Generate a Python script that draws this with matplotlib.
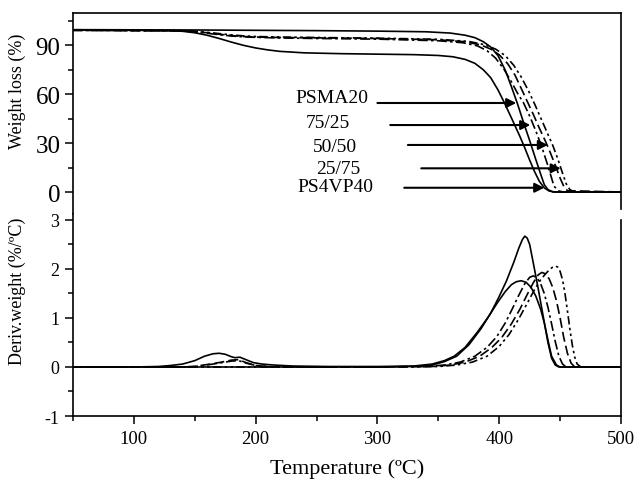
import matplotlib
matplotlib.use('Agg')
import matplotlib.pyplot as plt

plt.rcParams['font.family'] = ['Liberation Serif', 'DejaVu Serif']
plt.rcParams['axes.unicode_minus'] = False

# ---- TGA (weight loss, %) ----
psma20_t = [50, 150, 200, 250, 300, 340, 360, 372, 380, 387, 393, 399, 405, 410, 415,
            420, 425, 430, 434, 437, 440, 444, 500]
psma20_w = [99.4, 99.2, 99.0, 98.8, 98.5, 98.1, 97.3, 96.0, 94.5, 92.0, 88.8, 83.5, 74.5,
            64.5, 54.0, 42.5, 31.5, 20.0, 11.0, 4.5, 1.5, 0.0, 0.0]

r7525_t = [50, 140, 150, 160, 170, 180, 190, 200, 220, 250, 300, 350, 370, 382, 390, 397,
           404, 410, 415, 420, 425, 430, 435, 440, 445, 449, 453, 500]
r7525_w = [99.0, 98.6, 98.0, 97.2, 96.3, 95.5, 95.0, 94.7, 94.3, 94.0, 93.6, 92.6, 91.4,
           89.5, 86.5, 82.0, 75.0, 67.5, 60.5, 54.5, 46.5, 37.5, 27.5, 16.0, 3.5, 0.6, 0.0, 0.0]

r5050_t = [50, 140, 150, 160, 170, 180, 190, 200, 220, 250, 300, 350, 372, 385, 393, 400,
           407, 413, 418, 423, 428, 433, 438, 442, 446, 450, 453, 456, 500]
r5050_w = [99.0, 98.7, 98.2, 97.5, 96.6, 95.8, 95.2, 94.9, 94.6, 94.4, 94.0, 93.2, 92.0,
           90.0, 87.5, 84.0, 78.5, 71.5, 63.5, 55.5, 47.5, 39.0, 31.0, 24.0, 16.5, 8.5, 3.5,
           0.8, 0.0]

r2575_t = [50, 140, 150, 160, 170, 180, 190, 200, 220, 250, 300, 350, 375, 388, 397, 405,
           412, 418, 424, 429, 434, 439, 444, 448, 452, 455, 458, 461, 500]
r2575_w = [99.0, 98.8, 98.4, 97.8, 97.0, 96.2, 95.6, 95.2, 94.9, 94.6, 94.2, 93.5, 92.2,
           90.2, 87.5, 83.5, 77.5, 70.5, 62.0, 54.0, 45.5, 37.0, 28.5, 20.5, 11.5, 5.0, 1.5,
           0.2, 0.0]

ps4vp40_t = [50, 100, 130, 140, 150, 160, 170, 180, 190, 200, 210, 220, 240, 270, 300, 330,
             350, 362, 372, 380, 387, 393, 399, 404, 409, 413, 417, 421, 425, 429, 433, 437,
             441, 446, 500]
ps4vp40_w = [99.2, 99.0, 98.8, 98.4, 97.5, 96.0, 94.0, 91.8, 89.8, 88.2, 87.0, 86.1, 85.2,
             84.7, 84.4, 84.1, 83.6, 82.8, 81.2, 78.8, 74.8, 70.0, 62.5, 55.0, 47.0, 40.5,
             34.0, 27.0, 19.5, 12.5, 6.5, 2.5, 0.6, 0.0, 0.0]

# ---- DTG (deriv. weight, %/ºC) ----
psma20_dt = [50, 300, 330, 345, 355, 365, 375, 385, 393, 400, 406, 412, 416, 419, 421, 423,
             425, 428, 432, 436, 440, 443, 446, 449, 500]
psma20_d = [0, 0, 0.01, 0.04, 0.11, 0.22, 0.45, 0.78, 1.1, 1.44, 1.76, 2.14, 2.42, 2.6,
            2.67, 2.63, 2.5, 2.12, 1.6, 1.05, 0.5, 0.18, 0.04, 0, 0]

r7525_dt = [50, 140, 150, 160, 170, 180, 186, 192, 200, 215, 300, 340, 355, 368, 380, 390,
            398, 405, 411, 416, 421, 425, 428, 431, 434, 437, 440, 443, 446, 449, 452, 455, 500]
r7525_d = [0, 0, 0.01, 0.04, 0.08, 0.12, 0.13, 0.08, 0.03, 0, 0, 0.01, 0.04, 0.1, 0.22, 0.4,
           0.62, 0.9, 1.2, 1.46, 1.7, 1.83, 1.86, 1.82, 1.7, 1.5, 1.22, 0.88, 0.52, 0.22,
           0.06, 0, 0]

r5050_dt = [50, 140, 150, 160, 170, 180, 186, 192, 200, 215, 300, 345, 360, 372, 384, 394,
            402, 410, 417, 423, 428, 432, 435, 438, 441, 444, 447, 450, 453, 456, 459, 462, 500]
r5050_d = [0, 0, 0.01, 0.05, 0.09, 0.14, 0.15, 0.09, 0.03, 0, 0, 0.01, 0.04, 0.1, 0.22, 0.4,
           0.6, 0.88, 1.18, 1.48, 1.72, 1.88, 1.93, 1.9, 1.8, 1.62, 1.35, 1.0, 0.6, 0.28,
           0.08, 0, 0]

r2575_dt = [50, 300, 350, 365, 378, 390, 400, 408, 416, 423, 429, 434, 438, 441, 444, 446,
            448, 450, 452, 454, 456, 458, 460, 462, 464, 467, 500]
r2575_d = [0, 0, 0.01, 0.04, 0.1, 0.22, 0.42, 0.66, 0.98, 1.3, 1.58, 1.78, 1.9, 1.98, 2.04,
           2.06, 2.04, 1.95, 1.78, 1.5, 1.15, 0.78, 0.45, 0.2, 0.06, 0, 0]

ps4vp40_dt = [50, 100, 120, 130, 140, 150, 158, 165, 170, 175, 180, 183, 187, 192, 198, 205,
              215, 230, 260, 300, 330, 345, 355, 363, 372, 382, 391, 399, 405, 410, 414, 418,
              422, 426, 430, 434, 437, 440, 443, 447, 450, 500]
ps4vp40_d = [0, 0, 0.01, 0.03, 0.06, 0.13, 0.22, 0.27, 0.28, 0.26, 0.21, 0.19, 0.2, 0.15,
             0.09, 0.06, 0.04, 0.02, 0.01, 0.01, 0.02, 0.06, 0.13, 0.22, 0.4, 0.71, 1.02, 1.33,
             1.54, 1.68, 1.74, 1.76, 1.73, 1.63, 1.45, 1.18, 0.9, 0.55, 0.22, 0.04, 0, 0]

# labels: text x, text baseline y, arrow start x, arrow tip x, arrow y
labels = ['PSMA20', '75/25', '50/50', '25/75', 'PS4VP40']
label_x = [233, 241, 247, 249.5, 234.5]
label_y = [55.1, 39.8, 25.3, 11.8, 0.6]
arrow_from = [300, 310.5, 325, 336, 322]
arrow_to = [414, 425.5, 440, 450.5, 437]
arrow_y = [54.5, 41.0, 28.8, 14.5, 2.6]

styles = {
    'psma20': '-',
    'r7525': (0, (6, 2, 1.5, 2)),
    'r5050': (0, (6, 2.5)),
    'r2575': (0, (5, 2, 1.5, 2, 1.5, 2)),
    'ps4vp40': '-',
}

W, H = 637, 485
fig = plt.figure(figsize=(W / 100, H / 100), dpi=100)
left = 73 / W
width = 548 / W
ax1 = fig.add_axes([left, 1 - 215 / H, width, 201 / H])
ax2 = fig.add_axes([left, 1 - 417 / H, width, 202 / H])

lw = 1.2
ax1.plot(ps4vp40_t, ps4vp40_w, color='k', ls=styles['ps4vp40'], lw=lw)
ax1.plot(psma20_t, psma20_w, color='k', ls=styles['psma20'], lw=lw)
ax1.plot(r7525_t, r7525_w, color='k', ls=styles['r7525'], lw=lw)
ax1.plot(r5050_t, r5050_w, color='k', ls=styles['r5050'], lw=lw)
ax1.plot(r2575_t, r2575_w, color='k', ls=styles['r2575'], lw=lw)

ax2.plot(ps4vp40_dt, ps4vp40_d, color='k', ls=styles['ps4vp40'], lw=lw)
ax2.plot(psma20_dt, psma20_d, color='k', ls=styles['psma20'], lw=lw)
ax2.plot(r7525_dt, r7525_d, color='k', ls=styles['r7525'], lw=lw)
ax2.plot(r5050_dt, r5050_d, color='k', ls=styles['r5050'], lw=lw)
ax2.plot(r2575_dt, r2575_d, color='k', ls=styles['r2575'], lw=lw)

for i, lab in enumerate(labels):
    ax1.text(label_x[i], label_y[i], lab, fontsize=14, ha='left', va='baseline')
    ax1.annotate('', xy=(arrow_to[i], arrow_y[i]), xytext=(arrow_from[i], arrow_y[i]),
                 arrowprops=dict(arrowstyle='-|>', color='k', lw=1.5, mutation_scale=14,
                                 shrinkA=0, shrinkB=0))

# top panel axes
ax1.set_xlim(50, 500)
ax1.set_ylim(-13.47, 109.6)
ax1.set_yticks([0, 30, 60, 90])
ax1.set_yticks([15, 45, 75, 105], minor=True)
ax1.spines['bottom'].set_visible(False)
ax1.spines['right'].set_bounds(-10.4, 109.6)
ax1.tick_params(axis='x', which='both', bottom=False, labelbottom=False)
ax1.tick_params(axis='y', which='major', direction='out', length=6, width=1.1,
                labelsize=18, pad=3)
ax1.tick_params(axis='y', which='minor', direction='out', length=3.5, width=1.1)
ax1.set_ylabel('Weight loss (%)', fontsize=13)
ax1.yaxis.set_label_coords(-0.086, 0.617)

# bottom panel axes
ax2.set_xlim(50, 500)
ax2.set_ylim(-1, 3.122)
ax2.set_yticks([-1, 0, 1, 2, 3])
ax2.set_yticks([-0.5, 0.5, 1.5, 2.5], minor=True)
ax2.set_xticks([100, 200, 300, 400, 500])
ax2.set_xticks([50, 150, 250, 350, 450], minor=True)
ax2.spines['top'].set_visible(False)
ax2.spines['right'].set_bounds(-1, 3.0)
ax2.tick_params(axis='both', which='major', direction='out', length=6, width=1.1, pad=4)
ax2.tick_params(axis='both', which='minor', direction='out', length=3.5, width=1.1)
ax2.tick_params(axis='y', which='major', labelsize=13)
ax2.tick_params(axis='x', which='major', labelsize=13.5)
ax2.set_ylabel('Deriv.weight (%/ºC)', fontsize=13)
ax2.yaxis.set_label_coords(-0.086, 0.62)
ax2.set_xlabel('Temperature (ºC)', fontsize=16, labelpad=8)

for ax in (ax1, ax2):
    for s in ax.spines.values():
        s.set_linewidth(1.2)

fig.savefig('out.png', dpi=100, facecolor='white')
